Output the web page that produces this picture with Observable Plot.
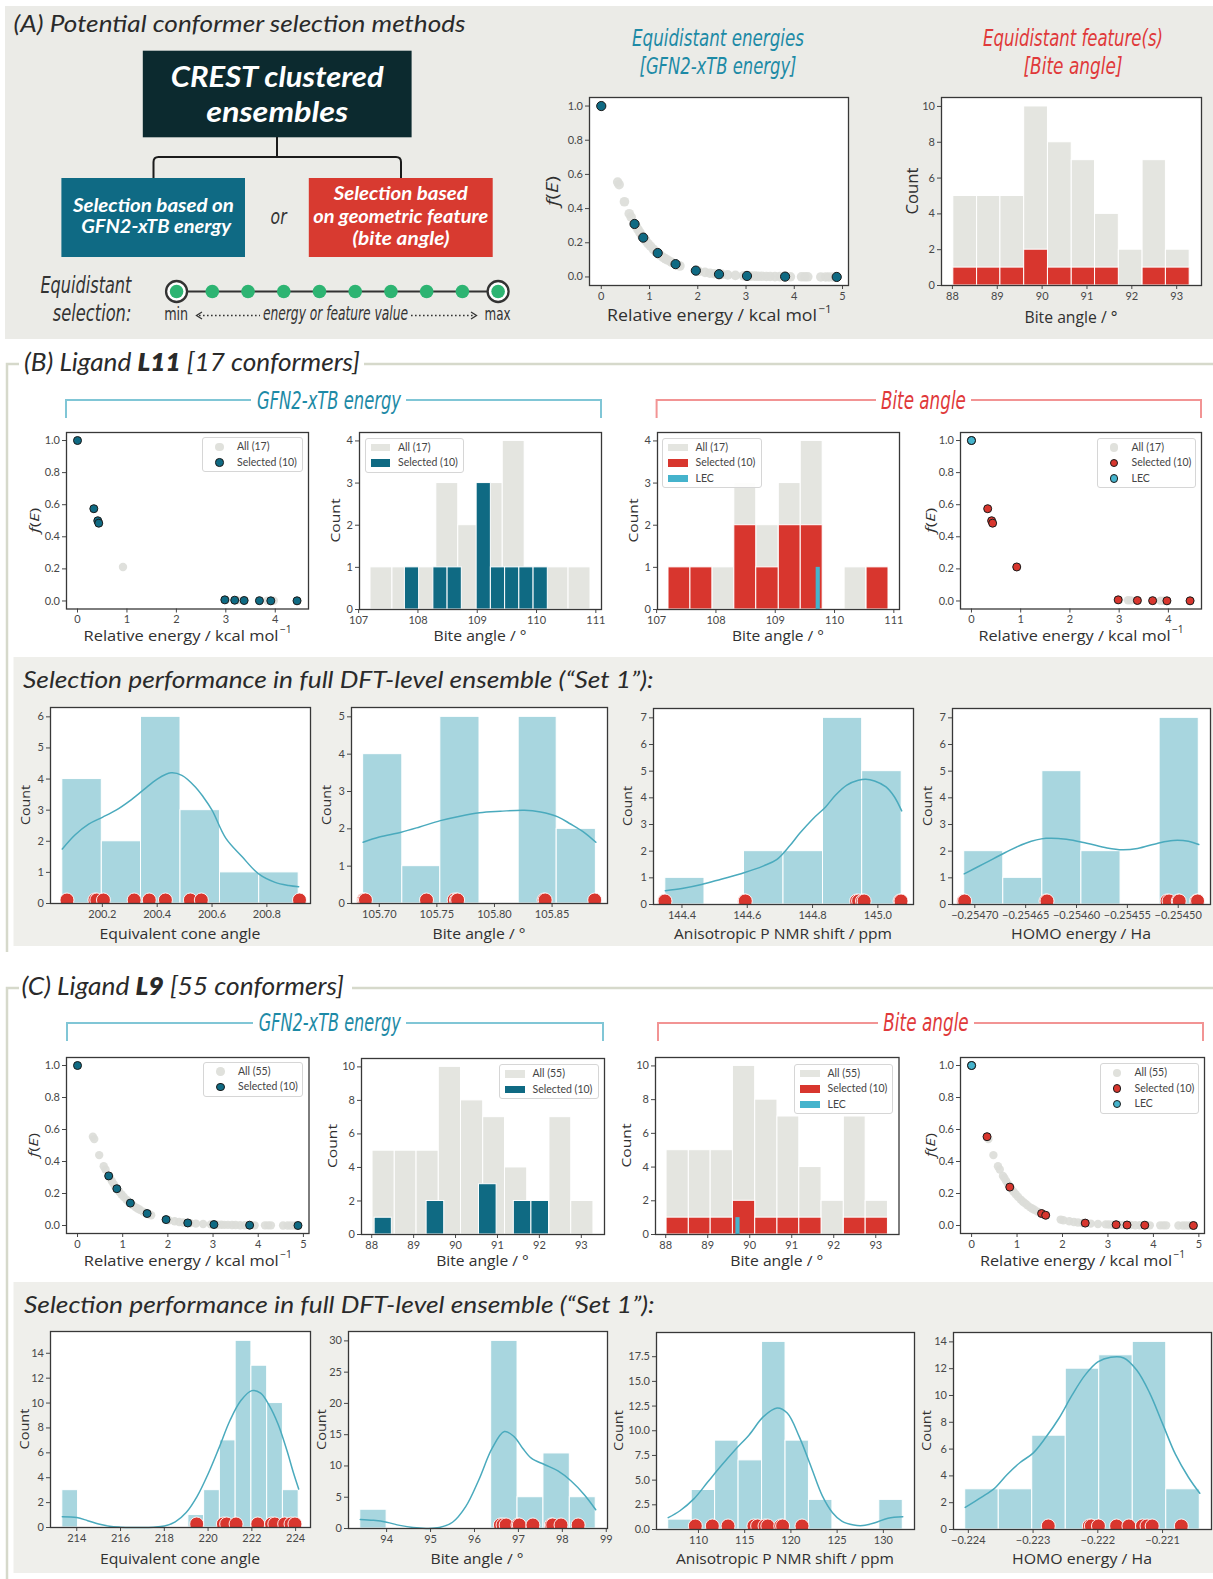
<!DOCTYPE html>
<html>
<head>
<meta charset="utf-8">
<title>Conformer selection methods</title>
<script src="https://cdn.jsdelivr.net/npm/d3@7"></script>
<script src="https://cdn.jsdelivr.net/npm/@observablehq/plot@0.6"></script>
<style>
  html, body { margin: 0; padding: 0; background: #ffffff; }
  #page { position: relative; width: 1213px; height: 1579px; overflow: hidden; }
  #bg { position: absolute; left: 0; top: 0; }
  .legend { position: absolute; box-sizing: border-box; background: rgba(255,255,255,0.9);
    border: 1px solid #d6d6d6; border-radius: 3px; padding: 1px 0;
    font: 10.5px Lato, "Open Sans", sans-serif; color: #444; }
  .legend .row { position: relative; height: 15.5px; line-height: 15.5px; white-space: nowrap; }
  .legend .mk { position: absolute; box-sizing: border-box; }
  .legend .lb { position: absolute; top: 0; }
</style>
</head>
<body>
<div id="page"><svg id="bg" width="1213" height="1579"></svg></div>
<script>
// ================= Ligand L9 (55 conformers) =================
// GFN2-xTB relative energy (kcal/mol) and Boltzmann factor f(E) of every conformer
const l9Energy = [0, 0.34, 0.37, 0.48, 0.58, 0.62, 0.69, 0.72, 0.76, 0.80, 0.84, 0.87, 0.92, 0.97, 1.02,
  1.08, 1.13, 1.17, 1.22, 1.28, 1.33, 1.38, 1.45, 1.54, 1.58, 1.63, 1.96, 2.02, 2.15, 2.25, 2.34, 2.44,
  2.50, 2.62, 2.78, 2.95, 3.02, 3.10, 3.18, 3.25, 3.33, 3.42, 3.50, 3.60, 3.70, 3.81, 3.92, 4.15, 4.22,
  4.28, 4.55, 4.65, 4.72, 4.80, 4.88];
const l9Weight = [1.000, 0.555, 0.540, 0.440, 0.370, 0.350, 0.310, 0.297, 0.278, 0.260, 0.240, 0.230,
  0.212, 0.195, 0.180, 0.162, 0.149, 0.140, 0.128, 0.115, 0.106, 0.098, 0.087, 0.075, 0.070, 0.064,
  0.037, 0.033, 0.027, 0.022, 0.019, 0.016, 0.015, 0.012, 0.009, 0.007, 0.006, 0.005, 0.005, 0.004,
  0.004, 0.003, 0.003, 0.002, 0.002, 0.002, 0.001, 0.001, 0.001, 0.001, 0.000, 0.000, 0.000, 0.000, 0.000];
// conformers picked at equidistant energies
const l9EnergyPickE = [0, 0.69, 0.87, 1.17, 1.54, 1.96, 2.44, 3.02, 3.81, 4.88];
const l9EnergyPickF = [1.000, 0.310, 0.230, 0.140, 0.075, 0.037, 0.016, 0.006, 0.002, 0.000];
// conformers picked at equidistant bite angles
const l9BitePickE = [0, 0.34, 0.84, 1.54, 1.63, 2.50, 3.18, 3.42, 3.81, 4.88];
const l9BitePickF = [1.000, 0.555, 0.240, 0.075, 0.064, 0.015, 0.005, 0.003, 0.002, 0.000];
// lowest-energy conformer
const l9LecE = [0];
const l9LecF = [1.000];

// bite-angle histograms of the CREST ensemble
const l9BiteEdges = [88.02, 88.55, 89.07, 89.60, 90.13, 90.66, 91.18, 91.71, 92.24, 92.76, 93.29];
const l9BiteCounts = [5, 5, 5, 10, 8, 7, 4, 2, 7, 2];
const l9BitePickCounts = [1, 1, 1, 2, 1, 1, 1, 0, 1, 1];
const l9EnergyPickEdges = [88.07, 88.48, 88.90, 89.31, 89.73, 90.15, 90.56, 90.98, 91.39, 91.81, 92.23];
const l9EnergyPickCounts = [1, 0, 0, 2, 0, 0, 3, 0, 2, 2];
const l9LecBin = [89.67, 89.77];

// DFT-level "Set 1" descriptors
const l9ConeEdges = [213.34, 214.06, 214.78, 215.50, 216.22, 216.94, 217.66, 218.38, 219.10, 219.82,
  220.54, 221.26, 221.98, 222.70, 223.42, 224.14];
const l9ConeCounts = [3, 0, 0, 0, 0, 0, 0, 0, 1, 3, 7, 15, 13, 10, 3];
const l9ConePicked = [219.48, 220.70, 220.85, 221.28, 222.27, 222.90, 223.05, 223.50, 223.79, 223.97];
const l9ConeKdeX = [213.34, 214.0, 214.5, 215.0, 215.5, 216.0, 216.5, 217.0, 217.5, 218.0, 218.5, 219.0,
  219.5, 220.0, 220.5, 221.0, 221.5, 222.0, 222.4, 222.8, 223.2, 223.6, 223.9, 224.14];
const l9ConeKdeY = [0.86, 0.8, 0.55, 0.28, 0.1, 0.03, 0.0, 0.0, 0.03, 0.12, 0.45, 1.2, 2.5, 4.3, 6.4, 8.6,
  10.2, 11.0, 10.8, 9.8, 8.3, 6.2, 4.4, 3.1];

const l9DftBiteEdges = [93.40, 94.00, 94.59, 95.19, 95.78, 96.38, 96.98, 97.57, 98.17, 98.76];
const l9DftBiteCounts = [3, 0, 0, 0, 0, 30, 5, 12, 5];
const l9DftBitePicked = [96.59, 96.65, 96.72, 96.99, 97.02, 97.33, 97.75, 97.78, 97.97, 98.36];
const l9DftBiteKdeX = [93.40, 93.7, 94.0, 94.3, 94.6, 94.9, 95.2, 95.5, 95.8, 96.1, 96.4, 96.68, 96.9,
  97.1, 97.3, 97.6, 97.9, 98.2, 98.5, 98.76];
const l9DftBiteKdeY = [1.45, 1.3, 1.0, 0.5, 0.15, 0.02, 0.15, 1.0, 3.5, 7.8, 12.8, 15.5, 14.7, 12.8,
  11.2, 10.2, 9.2, 7.6, 5.4, 3.0];

const l9NmrEdges = [106.73, 109.27, 111.80, 114.34, 116.88, 119.42, 121.95, 124.49, 127.03, 129.56, 132.10];
const l9NmrCounts = [1, 4, 9, 7, 19, 9, 3, 0, 0, 3];
const l9NmrPicked = [109.66, 111.5, 113.2, 116.0, 116.4, 117.2, 117.5, 118.9, 119.1, 121.2];
const l9NmrKdeX = [106.73, 108.0, 109.5, 111.0, 112.5, 114.0, 115.5, 117.0, 118.5, 119.6, 120.9, 122.2,
  123.4, 124.5, 125.5, 126.8, 127.8, 129.0, 130.5, 132.1];
const l9NmrKdeY = [1.2, 1.9, 3.1, 4.8, 6.5, 8.1, 9.6, 11.4, 12.3, 11.8, 9.4, 6.3, 3.4, 1.7, 0.85, 0.45,
  0.4, 0.65, 1.15, 1.3];

const l9HomoEdges = [-0.224048, -0.223530, -0.223013, -0.222495, -0.221978, -0.221460, -0.220943, -0.220425];
const l9HomoCounts = [3, 3, 7, 12, 13, 14, 3];
const l9HomoPicked = [-0.222765, -0.22213, -0.22210, -0.22199, -0.22171, -0.22152, -0.22131, -0.22124,
  -0.22116, -0.22071];
const l9HomoKdeX = [-0.224048, -0.2238, -0.2236, -0.2234, -0.2232, -0.2230, -0.2228, -0.2226, -0.2224,
  -0.2222, -0.2220, -0.2218, -0.2216, -0.2214, -0.2212, -0.2210, -0.2208, -0.2206, -0.220425];
const l9HomoKdeY = [1.65, 2.4, 3.05, 4.1, 5.0, 5.7, 6.9, 8.3, 10.0, 11.5, 12.5, 12.85, 12.8, 11.9, 10.2,
  7.9, 5.6, 3.9, 2.7];

// ================= Ligand L11 (17 conformers) =================
const l11Energy = [0, 0.33, 0.41, 0.43, 0.92, 2.98, 3.00, 3.18, 3.24, 3.37, 3.38, 3.68, 3.84, 3.91, 3.97, 4.44, 4.45];
const l11Weight = [1.000, 0.575, 0.500, 0.485, 0.212, 0.007, 0.006, 0.005, 0.004, 0.003, 0.003, 0.002,
  0.002, 0.001, 0.001, 0.001, 0.001];
const l11EnergyPickE = [0, 0.33, 0.41, 0.43, 2.98, 3.18, 3.37, 3.68, 3.91, 4.44];
const l11EnergyPickF = [1.000, 0.575, 0.500, 0.485, 0.007, 0.005, 0.003, 0.002, 0.001, 0.001];
const l11BitePickE = [0, 0.33, 0.41, 0.43, 0.92, 2.98, 3.37, 3.68, 3.97, 4.44];
const l11BitePickF = [1.000, 0.575, 0.500, 0.485, 0.212, 0.007, 0.003, 0.002, 0.001, 0.001];
const l11LecE = [0];
const l11LecF = [1.000];

const l11BiteEdges = [107.20, 107.57, 107.94, 108.31, 108.68, 109.06, 109.43, 109.80, 110.17, 110.54, 110.91];
const l11BiteCounts = [1, 1, 1, 3, 2, 3, 4, 0, 1, 1];
const l11BitePickCounts = [1, 1, 0, 2, 1, 2, 2, 0, 0, 1];
const l11EnergyPickEdges = [107.78, 108.02, 108.26, 108.50, 108.74, 108.99, 109.23, 109.47, 109.71, 109.95, 110.19];
const l11EnergyPickCounts = [1, 0, 1, 1, 0, 3, 1, 1, 1, 1];
const l11LecBin = [109.69, 109.76];

const l11ConeEdges = [200.054, 200.198, 200.341, 200.485, 200.629, 200.772, 200.916];
const l11ConeCounts = [4, 2, 6, 3, 1, 1];
const l11ConePicked = [200.071, 200.173, 200.180, 200.204, 200.316, 200.371, 200.430, 200.521, 200.561, 200.919];
const l11ConeKdeX = [200.054, 200.10, 200.15, 200.20, 200.25, 200.30, 200.35, 200.40, 200.45, 200.49,
  200.54, 200.57, 200.60, 200.65, 200.71, 200.77, 200.83, 200.88, 200.916];
const l11ConeKdeY = [1.75, 2.2, 2.55, 2.77, 3.0, 3.3, 3.65, 4.0, 4.2, 4.12, 3.74, 3.4, 3.0, 2.1, 1.5,
  0.95, 0.68, 0.58, 0.54];

const l11DftBiteEdges = [105.686, 105.720, 105.753, 105.787, 105.821, 105.854, 105.888];
const l11DftBiteCounts = [4, 1, 5, 0, 5, 2];
const l11DftBitePicked = [105.6862, 105.687, 105.688, 105.741, 105.765, 105.767, 105.768, 105.843, 105.844, 105.887];
const l11DftBiteKdeX = [105.686, 105.70, 105.719, 105.735, 105.753, 105.77, 105.787, 105.805, 105.826,
  105.84, 105.855, 105.866, 105.878, 105.888];
const l11DftBiteKdeY = [1.64, 1.78, 1.91, 2.05, 2.22, 2.34, 2.43, 2.47, 2.5, 2.45, 2.32, 2.13, 1.9, 1.64];

const l11NmrEdges = [144.349, 144.469, 144.590, 144.711, 144.832, 144.952, 145.073];
const l11NmrCounts = [1, 0, 2, 2, 7, 5];
const l11NmrPicked = [144.346, 144.348, 144.592, 144.594, 144.935, 144.941, 144.953, 144.958, 145.068, 145.071];
const l11NmrKdeX = [144.349, 144.40, 144.46, 144.52, 144.59, 144.65, 144.69, 144.73, 144.76, 144.80,
  144.84, 144.87, 144.905, 144.94, 144.963, 144.99, 145.025, 145.05, 145.073];
const l11NmrKdeY = [0.52, 0.6, 0.75, 0.95, 1.19, 1.45, 1.68, 2.2, 2.66, 3.2, 3.66, 4.1, 4.48, 4.66, 4.7,
  4.63, 4.41, 4.05, 3.51];

const l11HomoEdges = [-0.2547104, -0.2546720, -0.2546336, -0.2545952, -0.2545567, -0.2545183, -0.2544798];
const l11HomoCounts = [2, 1, 5, 2, 0, 7];
const l11HomoPicked = [-0.254711, -0.254710, -0.254630, -0.254629, -0.254511, -0.254509, -0.254500,
  -0.254499, -0.254482, -0.254481];
const l11HomoKdeX = [-0.2547104, -0.25469, -0.25467, -0.25465, -0.25463, -0.25461, -0.25459, -0.25457,
  -0.254555, -0.25454, -0.25452, -0.254505, -0.25449, -0.2544798];
const l11HomoKdeY = [1.15, 1.55, 1.95, 2.3, 2.48, 2.45, 2.3, 2.12, 2.05, 2.1, 2.3, 2.4, 2.37, 2.25];

// equidistant selection sketch: ten evenly spaced picks between min and max
const selectionSteps = [0, 1, 2, 3, 4, 5, 6, 7, 8, 9];
const selectionEnds = [0, 9];

// ================= styling =================
const SANS = 'Lato, "Open Sans", sans-serif';
const WIDE = '"Open Sans", Lato, sans-serif';
const COND = '"Liberation Sans Narrow", "DejaVu Sans Condensed", "Roboto Condensed", "Liberation Sans", sans-serif';
const C = {
  grayBar: "#e4e5e0", grayDot: "#dcddd8", teal: "#0f6a83", red: "#d8362e", lec: "#45b3cc",
  dft: "#a8d6df", kde: "#4aaabd", tealTitle: "#1d8aa6", redTitle: "#e0393a",
  tealLine: "#80c6d6", redLine: "#f29494", panelA: "#ebebe7", panelBox: "#efefeb", section: "#d6d9cb"
};

// frame rectangles (left, top, width, height) of each axes
const F = {
  a1: {l: 588.5, t: 97, w: 259, h: 188},   a2: {l: 941, t: 97, w: 260, h: 188},
  b1: {l: 66, t: 432, w: 242, h: 176.5},   b2: {l: 359, t: 432, w: 242, h: 177},
  b3: {l: 657, t: 432, w: 242, h: 177},    b4: {l: 960, t: 432, w: 241, h: 176.5},
  b5: {l: 50, t: 707, w: 260, h: 196},     b6: {l: 351, t: 707, w: 256, h: 196},
  b7: {l: 653, t: 708, w: 260, h: 196},    b8: {l: 952, t: 708, w: 258, h: 196},
  c1: {l: 66, t: 1057, w: 242.5, h: 176},  c2: {l: 361, t: 1058, w: 243, h: 176},
  c3: {l: 655, t: 1057, w: 243.5, h: 177}, c4: {l: 960, t: 1057, w: 244, h: 176},
  c5: {l: 50, t: 1331, w: 260, h: 196},    c6: {l: 347.5, t: 1331, w: 259, h: 197},
  c7: {l: 656, t: 1332, w: 258, h: 197},   c8: {l: 953, t: 1332, w: 258, h: 197}
};

const page = document.getElementById("page");
const bg = d3.select("#bg");

// ---------- helpers ----------
const bars = (edges, counts) => counts.map((n, i) => ({x1: edges[i], x2: edges[i + 1], n})).filter(d => d.n > 0);
const zip = (xs, ys) => xs.map((x, i) => ({x, y: ys[i]}));
const padded = (lo, hi) => { const p = (hi - lo) * 0.05; return [lo - p, hi + p]; };
const fmt1 = d3.format(".1f"), fmtInt = d3.format("d");
const unitTicks = [0, 0.2, 0.4, 0.6, 0.8, 1.0];

function txt(x, y, s, o = {}) {
  const t = bg.append("text").attr("x", x).attr("y", y).text(s)
    .attr("font-family", o.family || SANS).attr("font-size", o.size || 15)
    .attr("fill", o.fill || "#333");
  if (o.italic) t.attr("font-style", "italic");
  if (o.weight) t.attr("font-weight", o.weight);
  if (o.len) t.attr("textLength", o.len).attr("lengthAdjust", "spacingAndGlyphs");
  if (o.anchor) t.attr("text-anchor", o.anchor);
  if (o.baseline) t.attr("dominant-baseline", o.baseline);
  return t;
}
// centred text squeezed to a given width
const ctxt = (cx, y, s, len, o = {}) => txt(cx - len / 2, y, s, {...o, len});

function xLabel(f, cy, s, len, size = 15, sup = null) {
  const cx = f.l + f.w / 2, x0 = cx - len / 2;
  const mainLen = sup ? len - 12 : len;
  txt(x0, cy, s, {family: WIDE, size, len: mainLen, baseline: "central", fill: "#303030"});
  if (sup) txt(x0 + mainLen + 1.5, cy - 6, sup, {family: WIDE, size: size * 0.68, baseline: "central", fill: "#303030"});
}
function yLabel(f, cx, parts, len, size = 13.5) {
  const cy = f.t + f.h / 2;
  const g = bg.append("g").attr("transform", `translate(${cx},${cy}) rotate(-90)`);
  const t = g.append("text").attr("x", -len / 2).attr("y", 0).attr("dominant-baseline", "central")
    .attr("font-family", WIDE).attr("font-size", size).attr("fill", "#303030")
    .attr("textLength", len).attr("lengthAdjust", "spacingAndGlyphs");
  parts.forEach(p => t.append("tspan").attr("font-style", p.i ? "italic" : null).text(p.s));
}
const countParts = [{s: "Count"}];
const fParts = [{s: "f", i: true}, {s: "("}, {s: "E", i: true}, {s: ")"}];

function chart(f, {xDomain, yDomain, xTicks, yTicks, xFormat, yFormat, marks}) {
  const ml = 70, mr = 14, mt = 12, mb = 34;
  const svg = Plot.plot({
    width: f.w + ml + mr, height: f.h + mt + mb,
    marginLeft: ml, marginRight: mr, marginTop: mt, marginBottom: mb,
    x: {domain: xDomain}, y: {domain: yDomain},
    style: {background: "transparent", color: "#474747", fontFamily: SANS, overflow: "visible", maxWidth: "none"},
    marks: [
      Plot.frame({fill: "white"}),
      ...marks,
      Plot.axisX({ticks: xTicks, tickFormat: xFormat, tickSize: 4, tickPadding: 2.5, fontSize: 11, label: null}),
      Plot.axisY({ticks: yTicks, tickFormat: yFormat, tickSize: 4, tickPadding: 2.5, fontSize: 11, label: null}),
      Plot.frame({stroke: "#383838", strokeWidth: 1.3})
    ]
  });
  svg.style.position = "absolute";
  svg.style.left = (f.l - ml) + "px";
  svg.style.top = (f.t - mt) + "px";
  page.appendChild(svg);
}

function legend(x, y, w, rows) {
  const box = document.createElement("div");
  box.className = "legend";
  Object.assign(box.style, {left: x + "px", top: y + "px", width: w + "px"});
  for (const r of rows) {
    const row = document.createElement("div");
    row.className = "row";
    const m = document.createElement("span");
    m.className = "mk";
    if (r.kind === "dot") {
      Object.assign(m.style, {left: "12px", top: "3.5px", width: "8.5px", height: "8.5px", borderRadius: "50%",
        background: r.fill, border: r.stroke ? "1.1px solid " + r.stroke : "none"});
    } else {
      Object.assign(m.style, {left: "5px", top: "4px", width: "19.5px", height: "7.5px", background: r.fill});
    }
    const t = document.createElement("span");
    t.className = "lb";
    t.style.left = (r.kind === "dot" ? 34 : 32.5) + "px";
    t.textContent = r.label;
    row.append(m, t);
    box.append(row);
  }
  page.appendChild(box);
}

// ---------- reusable mark builders ----------
const grayDots = (xs, ys, r) => Plot.dot(zip(xs, ys), {x: "x", y: "y", r, fill: C.grayDot, fillOpacity: 0.9});
const pickDots = (xs, ys, r, fill) => Plot.dot(zip(xs, ys), {x: "x", y: "y", r, fill, stroke: "#1b1b1b", strokeWidth: 1});
const histBars = (edges, counts, fill) => Plot.rectY(bars(edges, counts), {x1: "x1", x2: "x2", y: "n", fill, stroke: "white", strokeWidth: 1});
const kdeLine = (xs, ys) => Plot.line(zip(xs, ys), {x: "x", y: "y", curve: "catmull-rom", stroke: C.kde, strokeWidth: 1.5});
const rugDots = (vals) => Plot.dot(vals, {x: d => d, y: d => 0, r: 7, dy: -3.5, fill: C.red, stroke: "white", strokeWidth: 0.9, clip: true});

// ================= backgrounds & section frames =================
bg.append("rect").attr("x", 5).attr("y", 6).attr("width", 1208).attr("height", 333).attr("fill", C.panelA);
bg.append("rect").attr("x", 13.5).attr("y", 657).attr("width", 1200).attr("height", 289).attr("fill", C.panelBox);
bg.append("rect").attr("x", 13.5).attr("y", 1282).attr("width", 1200).attr("height", 291).attr("fill", C.panelBox);

function sectionFrame(y, titleEnd, yEnd) {
  const s = bg.append("g").attr("stroke", C.section).attr("stroke-width", 2.5).attr("fill", "none");
  s.append("path").attr("d", `M7,${yEnd} V${y} H19`);
  s.append("path").attr("d", `M${titleEnd},${y} H1213`);
}
sectionFrame(364, 364, 952);
sectionFrame(988, 352, 1579);

function bracket(x0, x1, y, tx0, tx1, color) {
  const g = bg.append("g").attr("stroke", color).attr("stroke-width", 2).attr("fill", "none");
  g.append("path").attr("d", `M${x0},${y + 18} V${y} H${tx0}`);
  g.append("path").attr("d", `M${tx1},${y} H${x1} V${y + 18}`);
}

// ================= panel A =================
txt(13.6, 31.5, "(A) Potential conformer selection methods", {size: 23, italic: true, len: 452, fill: "#2a2a2a"});

// flow chart
bg.append("rect").attr("x", 142.8).attr("y", 50.7).attr("width", 268.8).attr("height", 86.6).attr("fill", "#0c2a2f");
ctxt(277.2, 86.7, "CREST clustered", 213, {size: 28, weight: 700, italic: true, fill: "white"});
ctxt(277.2, 122, "ensembles", 142, {size: 28, weight: 700, italic: true, fill: "white"});
bg.append("path").attr("d", "M277,137 V157 M153.5,178 V162 Q153.5,157 158.5,157 H396 Q401,157 401,162 V178")
  .attr("stroke", "#1b1b1b").attr("stroke-width", 2).attr("fill", "none");
bg.append("rect").attr("x", 61.4).attr("y", 178).attr("width", 183.6).attr("height", 79).attr("fill", "#0f6a84");
ctxt(153.4, 211.5, "Selection based on", 161, {size: 19, weight: 700, italic: true, fill: "white"});
ctxt(156.2, 233, "GFN2-xTB energy", 150, {size: 19, weight: 700, italic: true, fill: "white"});
ctxt(278.6, 224, "or", 16, {size: 22, italic: true, family: COND, fill: "#333"});
bg.append("rect").attr("x", 308.8).attr("y", 178).attr("width", 183.9).attr("height", 79).attr("fill", "#d83a30");
ctxt(400.7, 200, "Selection based", 134, {size: 19, weight: 700, italic: true, fill: "white"});
ctxt(400.7, 222.7, "on geometric feature", 175, {size: 19, weight: 700, italic: true, fill: "white"});
ctxt(401, 245, "(bite angle)", 97, {size: 19, weight: 700, italic: true, fill: "white"});

txt(40.4, 293, "Equidistant", {size: 23, italic: true, family: COND, len: 91, fill: "#333"});
txt(52.8, 320.5, "selection:", {size: 23, italic: true, family: COND, len: 78.6, fill: "#333"});
txt(164.2, 320, "min", {size: 18, family: COND, len: 24, fill: "#333"});
txt(484.5, 320, "max", {size: 18, family: COND, len: 26, fill: "#333"});
txt(263, 320, "energy or feature value", {size: 19, italic: true, family: COND, len: 145, fill: "#333"});
const arrows = bg.append("g").attr("stroke", "#333").attr("fill", "none").attr("stroke-width", 1.3);
arrows.append("path").attr("d", "M199,315.5 H260").attr("stroke-dasharray", "1.6,2.4");
arrows.append("path").attr("d", "M411,315.5 H473").attr("stroke-dasharray", "1.6,2.4");
arrows.append("path").attr("d", "M202,312 L196.5,315.5 L202,319");
arrows.append("path").attr("d", "M471,312 L476.5,315.5 L471,319");

// chain of equidistant picks
{
  const x0 = 175.6, x1 = 497.3, cy = 290.7, m = 16;
  const chain = Plot.plot({
    width: x1 - x0 + 2 * m, height: 32, marginLeft: m, marginRight: m, marginTop: 15, marginBottom: 15,
    x: {domain: [0, 9], axis: null}, y: {domain: [0, 1], axis: null},
    style: {background: "transparent", overflow: "visible", maxWidth: "none"},
    marks: [
      Plot.ruleY([0.5], {stroke: "#333", strokeWidth: 2}),
      Plot.dot(selectionEnds, {x: d => d, y: d => 0.5, r: 10.5, fill: "white", stroke: "#333", strokeWidth: 2.3}),
      Plot.dot(selectionSteps, {x: d => d, y: d => 0.5, r: 6.8, fill: "#2db472"})
    ]
  });
  chain.style.position = "absolute";
  chain.style.left = (x0 - m) + "px";
  chain.style.top = (cy - 16) + "px";
  page.appendChild(chain);
}

// plot titles
ctxt(718, 46, "Equidistant energies", 172, {size: 23, italic: true, family: COND, fill: C.tealTitle});
ctxt(718, 74, "[GFN2-xTB energy]", 157, {size: 23, italic: true, family: COND, fill: C.tealTitle});
ctxt(1073, 46, "Equidistant feature(s)", 180, {size: 23, italic: true, family: COND, fill: C.redTitle});
ctxt(1073, 74, "[Bite angle]", 99, {size: 23, italic: true, family: COND, fill: C.redTitle});

const eDomL9 = padded(d3.min(l9Energy), d3.max(l9Energy));
const eDomL11 = padded(d3.min(l11Energy), d3.max(l11Energy));
const fDom = [-0.05, 1.05];
const biteDomL9 = padded(l9BiteEdges[0], l9BiteEdges[l9BiteEdges.length - 1]);
const biteDomL11 = padded(l11BiteEdges[0], l11BiteEdges[l11BiteEdges.length - 1]);
const eTicks5 = [0, 1, 2, 3, 4, 5], eTicks4 = [0, 1, 2, 3, 4];

chart(F.a1, {xDomain: eDomL9, yDomain: fDom, xTicks: eTicks5, yTicks: unitTicks, xFormat: fmtInt, yFormat: fmt1,
  marks: [grayDots(l9Energy, l9Weight, 4.8), pickDots(l9EnergyPickE, l9EnergyPickF, 4.6, C.teal)]});
chart(F.a2, {xDomain: biteDomL9, yDomain: [0, 10.5], xTicks: [88, 89, 90, 91, 92, 93], yTicks: [0, 2, 4, 6, 8, 10],
  xFormat: fmtInt, yFormat: fmtInt,
  marks: [histBars(l9BiteEdges, l9BiteCounts, C.grayBar), histBars(l9BiteEdges, l9BitePickCounts, C.red)]});
xLabel(F.a1, 314, "Relative energy / kcal mol", 222, 17, "−1");
yLabel(F.a1, 552, fParts, 30, 16);
xLabel(F.a2, 316, "Bite angle / °", 93, 16.5);
yLabel(F.a2, 911, countParts, 47, 17);

// ================= panels B and C: section titles =================
{
  const t = txt(24, 371, "", {size: 25, italic: true, fill: "#2a2a2a", len: 336});
  t.append("tspan").text("(B) Ligand ");
  t.append("tspan").attr("font-weight", 800).text("L11");
  t.append("tspan").text(" [17 conformers]");
  const u = txt(21.4, 995, "", {size: 25, italic: true, fill: "#2a2a2a", len: 322.6});
  u.append("tspan").text("(C) Ligand ");
  u.append("tspan").attr("font-weight", 800).text("L9");
  u.append("tspan").text(" [55 conformers]");
}
txt(23, 688, "Selection performance in full DFT-level ensemble (\u201CSet 1\u201D):", {size: 24, italic: true, len: 630.5, fill: "#2a2a2a"});
txt(24, 1313, "Selection performance in full DFT-level ensemble (\u201CSet 1\u201D):", {size: 24, italic: true, len: 630.6, fill: "#2a2a2a"});

bracket(66, 601, 400, 251, 406, C.tealLine);
bracket(656.6, 1201, 400, 876, 971, C.redLine);
bracket(67, 603, 1023, 253, 406, C.tealLine);
bracket(658, 1203, 1023, 878, 974, C.redLine);
ctxt(329, 409, "GFN2-xTB energy", 144, {size: 24, italic: true, family: COND, fill: C.tealTitle});
ctxt(923.4, 409, "Bite angle", 85, {size: 24, italic: true, family: COND, fill: C.redTitle});
ctxt(329.7, 1031, "GFN2-xTB energy", 142, {size: 24, italic: true, family: COND, fill: C.tealTitle});
ctxt(926, 1031, "Bite angle", 85.4, {size: 24, italic: true, family: COND, fill: C.redTitle});

// ================= panel B: CREST-level selection for L11 =================
chart(F.b1, {xDomain: eDomL11, yDomain: fDom, xTicks: eTicks4, yTicks: unitTicks, xFormat: fmtInt, yFormat: fmt1,
  marks: [grayDots(l11Energy, l11Weight, 4.2), pickDots(l11EnergyPickE, l11EnergyPickF, 4, C.teal)]});
chart(F.b2, {xDomain: biteDomL11, yDomain: [0, 4.2], xTicks: [107, 108, 109, 110, 111], yTicks: [0, 1, 2, 3, 4],
  xFormat: fmtInt, yFormat: fmtInt,
  marks: [histBars(l11BiteEdges, l11BiteCounts, C.grayBar), histBars(l11EnergyPickEdges, l11EnergyPickCounts, C.teal)]});
chart(F.b3, {xDomain: biteDomL11, yDomain: [0, 4.2], xTicks: [107, 108, 109, 110, 111], yTicks: [0, 1, 2, 3, 4],
  xFormat: fmtInt, yFormat: fmtInt,
  marks: [histBars(l11BiteEdges, l11BiteCounts, C.grayBar), histBars(l11BiteEdges, l11BitePickCounts, C.red),
    Plot.rectY([{x1: l11LecBin[0], x2: l11LecBin[1], n: 1}], {x1: "x1", x2: "x2", y: "n", fill: C.lec})]});
chart(F.b4, {xDomain: eDomL11, yDomain: fDom, xTicks: eTicks4, yTicks: unitTicks, xFormat: fmtInt, yFormat: fmt1,
  marks: [grayDots(l11Energy, l11Weight, 4.2), pickDots(l11BitePickE, l11BitePickF, 4, C.red),
    pickDots(l11LecE, l11LecF, 4, C.lec)]});

xLabel(F.b1, 635, "Relative energy / kcal mol", 207, 15, "−1");
xLabel(F.b2, 635, "Bite angle / °", 93);
xLabel(F.b3, 635, "Bite angle / °", 92);
xLabel(F.b4, 635, "Relative energy / kcal mol", 204, 15, "−1");
yLabel(F.b1, 33.5, fParts, 25, 13);
yLabel(F.b2, 335, countParts, 44);
yLabel(F.b3, 633, countParts, 44);
yLabel(F.b4, 929.5, fParts, 25, 13);

// ================= panel B: DFT-level ensemble for L11 =================
chart(F.b5, {xDomain: padded(l11ConeEdges[0], l11ConeEdges[6]), yDomain: [0, 6.3], xTicks: [200.2, 200.4, 200.6, 200.8],
  yTicks: [0, 1, 2, 3, 4, 5, 6], xFormat: fmt1, yFormat: fmtInt,
  marks: [histBars(l11ConeEdges, l11ConeCounts, C.dft), kdeLine(l11ConeKdeX, l11ConeKdeY), rugDots(l11ConePicked)]});
chart(F.b6, {xDomain: padded(l11DftBiteEdges[0], l11DftBiteEdges[6]), yDomain: [0, 5.25], xTicks: [105.70, 105.75, 105.80, 105.85],
  yTicks: [0, 1, 2, 3, 4, 5], xFormat: d3.format(".2f"), yFormat: fmtInt,
  marks: [histBars(l11DftBiteEdges, l11DftBiteCounts, C.dft), kdeLine(l11DftBiteKdeX, l11DftBiteKdeY), rugDots(l11DftBitePicked)]});
chart(F.b7, {xDomain: padded(l11NmrEdges[0], l11NmrEdges[6]), yDomain: [0, 7.35], xTicks: [144.4, 144.6, 144.8, 145.0],
  yTicks: [0, 1, 2, 3, 4, 5, 6, 7], xFormat: fmt1, yFormat: fmtInt,
  marks: [histBars(l11NmrEdges, l11NmrCounts, C.dft), kdeLine(l11NmrKdeX, l11NmrKdeY), rugDots(l11NmrPicked)]});
chart(F.b8, {xDomain: padded(l11HomoEdges[0], l11HomoEdges[6]), yDomain: [0, 7.35],
  xTicks: [-0.25470, -0.25465, -0.25460, -0.25455, -0.25450],
  yTicks: [0, 1, 2, 3, 4, 5, 6, 7], xFormat: d3.format(".5f"), yFormat: fmtInt,
  marks: [histBars(l11HomoEdges, l11HomoCounts, C.dft), kdeLine(l11HomoKdeX, l11HomoKdeY), rugDots(l11HomoPicked)]});

xLabel(F.b5, 933, "Equivalent cone angle", 161);
xLabel(F.b6, 933, "Bite angle / °", 93);
xLabel(F.b7, 933, "Anisotropic P NMR shift / ppm", 218);
xLabel(F.b8, 933, "HOMO energy / Ha", 140);
yLabel(F.b5, 24.5, countParts, 40);
yLabel(F.b6, 326, countParts, 40);
yLabel(F.b7, 627, countParts, 40);
yLabel(F.b8, 927, countParts, 40);

// ================= panel C: CREST-level selection for L9 =================
chart(F.c1, {xDomain: eDomL9, yDomain: fDom, xTicks: eTicks5, yTicks: unitTicks, xFormat: fmtInt, yFormat: fmt1,
  marks: [grayDots(l9Energy, l9Weight, 4.2), pickDots(l9EnergyPickE, l9EnergyPickF, 4, C.teal)]});
chart(F.c2, {xDomain: biteDomL9, yDomain: [0, 10.5], xTicks: [88, 89, 90, 91, 92, 93], yTicks: [0, 2, 4, 6, 8, 10],
  xFormat: fmtInt, yFormat: fmtInt,
  marks: [histBars(l9BiteEdges, l9BiteCounts, C.grayBar), histBars(l9EnergyPickEdges, l9EnergyPickCounts, C.teal)]});
chart(F.c3, {xDomain: biteDomL9, yDomain: [0, 10.5], xTicks: [88, 89, 90, 91, 92, 93], yTicks: [0, 2, 4, 6, 8, 10],
  xFormat: fmtInt, yFormat: fmtInt,
  marks: [histBars(l9BiteEdges, l9BiteCounts, C.grayBar), histBars(l9BiteEdges, l9BitePickCounts, C.red),
    Plot.rectY([{x1: l9LecBin[0], x2: l9LecBin[1], n: 1}], {x1: "x1", x2: "x2", y: "n", fill: C.lec})]});
chart(F.c4, {xDomain: eDomL9, yDomain: fDom, xTicks: eTicks5, yTicks: unitTicks, xFormat: fmtInt, yFormat: fmt1,
  marks: [grayDots(l9Energy, l9Weight, 4.2), pickDots(l9BitePickE, l9BitePickF, 4, C.red),
    pickDots(l9LecE, l9LecF, 4, C.lec)]});

xLabel(F.c1, 1260, "Relative energy / kcal mol", 207, 15, "−1");
xLabel(F.c2, 1260, "Bite angle / °", 92.5);
xLabel(F.c3, 1260, "Bite angle / °", 93);
xLabel(F.c4, 1260, "Relative energy / kcal mol", 204, 15, "−1");
yLabel(F.c1, 33, fParts, 24, 13);
yLabel(F.c2, 331.5, countParts, 44);
yLabel(F.c3, 626, countParts, 44);
yLabel(F.c4, 929.5, fParts, 24, 13);

// ================= panel C: DFT-level ensemble for L9 =================
chart(F.c5, {xDomain: padded(l9ConeEdges[0], l9ConeEdges[15]), yDomain: [0, 15.75], xTicks: [214, 216, 218, 220, 222, 224],
  yTicks: [0, 2, 4, 6, 8, 10, 12, 14], xFormat: fmtInt, yFormat: fmtInt,
  marks: [histBars(l9ConeEdges, l9ConeCounts, C.dft), kdeLine(l9ConeKdeX, l9ConeKdeY), rugDots(l9ConePicked)]});
chart(F.c6, {xDomain: padded(l9DftBiteEdges[0], l9DftBiteEdges[9]), yDomain: [0, 31.5], xTicks: [94, 95, 96, 97, 98, 99],
  yTicks: [0, 5, 10, 15, 20, 25, 30], xFormat: fmtInt, yFormat: fmtInt,
  marks: [histBars(l9DftBiteEdges, l9DftBiteCounts, C.dft), kdeLine(l9DftBiteKdeX, l9DftBiteKdeY), rugDots(l9DftBitePicked)]});
chart(F.c7, {xDomain: padded(l9NmrEdges[0], l9NmrEdges[10]), yDomain: [0, 19.95], xTicks: [110, 115, 120, 125, 130],
  yTicks: [0, 2.5, 5, 7.5, 10, 12.5, 15, 17.5], xFormat: fmtInt, yFormat: fmt1,
  marks: [histBars(l9NmrEdges, l9NmrCounts, C.dft), kdeLine(l9NmrKdeX, l9NmrKdeY), rugDots(l9NmrPicked)]});
chart(F.c8, {xDomain: padded(l9HomoEdges[0], l9HomoEdges[7]), yDomain: [0, 14.7], xTicks: [-0.224, -0.223, -0.222, -0.221],
  yTicks: [0, 2, 4, 6, 8, 10, 12, 14], xFormat: d3.format(".3f"), yFormat: fmtInt,
  marks: [histBars(l9HomoEdges, l9HomoCounts, C.dft), kdeLine(l9HomoKdeX, l9HomoKdeY), rugDots(l9HomoPicked)]});

xLabel(F.c5, 1558, "Equivalent cone angle", 160);
xLabel(F.c6, 1558, "Bite angle / °", 93);
xLabel(F.c7, 1558, "Anisotropic P NMR shift / ppm", 218);
xLabel(F.c8, 1558, "HOMO energy / Ha", 140);
yLabel(F.c5, 23.5, countParts, 41);
yLabel(F.c6, 320.5, countParts, 41);
yLabel(F.c7, 617.5, countParts, 41);
yLabel(F.c8, 925.5, countParts, 41);

// ================= legends =================
const gDot = {kind: "dot", fill: "#e0e1dc"};
const gBar = {kind: "bar", fill: C.grayBar};
legend(202, 437, 100.5, [{...gDot, label: "All (17)"}, {kind: "dot", fill: C.teal, stroke: "#1b1b1b", label: "Selected (10)"}]);
legend(364.5, 437.5, 99, [{...gBar, label: "All (17)"}, {kind: "bar", fill: C.teal, label: "Selected (10)"}]);
legend(662, 437.5, 99.5, [{...gBar, label: "All (17)"}, {kind: "bar", fill: C.red, label: "Selected (10)"}, {kind: "bar", fill: C.lec, label: "LEC"}]);
legend(1096.5, 437.5, 99.5, [{...gDot, label: "All (17)"}, {kind: "dot", fill: C.red, stroke: "#1b1b1b", label: "Selected (10)"}, {kind: "dot", fill: C.lec, stroke: "#1b1b1b", label: "LEC"}]);
legend(203, 1061.5, 100, [{...gDot, label: "All (55)"}, {kind: "dot", fill: C.teal, stroke: "#1b1b1b", label: "Selected (10)"}]);
legend(499, 1064, 100, [{...gBar, label: "All (55)"}, {kind: "bar", fill: C.teal, label: "Selected (10)"}]);
legend(794, 1063.5, 99, [{...gBar, label: "All (55)"}, {kind: "bar", fill: C.red, label: "Selected (10)"}, {kind: "bar", fill: C.lec, label: "LEC"}]);
legend(1099.5, 1063, 99, [{...gDot, label: "All (55)"}, {kind: "dot", fill: C.red, stroke: "#1b1b1b", label: "Selected (10)"}, {kind: "dot", fill: C.lec, stroke: "#1b1b1b", label: "LEC"}]);
</script>
</body>
</html>
